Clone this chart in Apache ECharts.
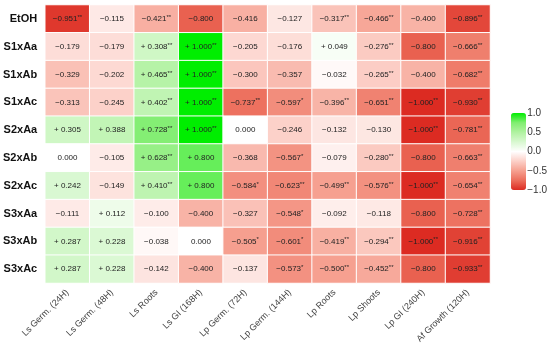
<!DOCTYPE html>
<html><head><meta charset="utf-8">
<script src="https://cdn.jsdelivr.net/npm/echarts@6/dist/echarts.min.js"></script>
<style>html,body{margin:0;padding:0;background:#fff}#c{width:550px;height:351px}</style>
</head><body><div id="c"></div>
<script>
var rows = ['EtOH','S1xAa','S1xAb','S1xAc','S2xAa','S2xAb','S2xAc','S3xAa','S3xAb','S3xAc'];
var cols = ['Ls Germ. (24H)','Ls Germ. (48H)','Ls Roots','Ls GI (168H)','Lp Germ. (72H)','Lp Germ. (144H)','Lp Roots','Lp Shoots','Lp GI (240H)','Af Growth (120H)'];
var values = [
  [-0.951,-0.115,-0.421,-0.800,-0.416,-0.127,-0.317,-0.466,-0.400,-0.896],
  [-0.179,-0.179, 0.308, 1.000,-0.205,-0.176, 0.049,-0.276,-0.800,-0.666],
  [-0.329,-0.202, 0.465, 1.000,-0.300,-0.357,-0.032,-0.265,-0.400,-0.682],
  [-0.313,-0.245, 0.402, 1.000,-0.737,-0.597,-0.396,-0.651,-1.000,-0.930],
  [ 0.305, 0.388, 0.728, 1.000, 0.000,-0.246,-0.132,-0.130,-1.000,-0.781],
  [ 0.000,-0.105, 0.628, 0.800,-0.368,-0.567,-0.079,-0.280,-0.800,-0.663],
  [ 0.242,-0.149, 0.410, 0.800,-0.584,-0.623,-0.499,-0.576,-1.000,-0.654],
  [-0.111, 0.112,-0.100,-0.400,-0.327,-0.548,-0.092,-0.118,-0.800,-0.728],
  [ 0.287, 0.228,-0.038, 0.000,-0.505,-0.601,-0.419,-0.294,-1.000,-0.916],
  [ 0.287, 0.228,-0.142,-0.400,-0.137,-0.573,-0.500,-0.452,-0.800,-0.933]
];
var sig = [
  ['**','','**','','','','**','**','','**'],
  ['','','**','**','','','','**','','**'],
  ['','','**','**','','','','**','','**'],
  ['','','**','**','**','*','**','**','**','**'],
  ['','','**','**','','','','','**','**'],
  ['','','**','','','*','','**','','**'],
  ['','','**','','*','**','**','**','**','**'],
  ['','','','','','*','','','','**'],
  ['','','','','*','*','**','**','**','**'],
  ['','','','','','*','**','**','','**']
];
var scaleTicks = [-1.0,-0.5,0.0,0.5,1.0];

var data = [];
for (var r = 0; r < rows.length; r++) {
  for (var c = 0; c < cols.length; c++) {
    data.push([c, r, values[r][c], sig[r][c]]);
  }
}
function fmt(v){
  if (v > 0) return '+ ' + v.toFixed(3);
  if (v < 0) return '\u2212' + Math.abs(v).toFixed(3);
  return '0.000';
}
var barTop = 113, barH = 77, barLeft = 511, barW = 15;
var chart = echarts.init(document.getElementById('c'), null, {renderer:'canvas'});
chart.setOption({
  backgroundColor:'#fff',
  animation:false,
  grid:[
    {left:40, right:60, top:5, bottom:68},
    {left:barLeft, width:barW, top:barTop, height:barH}
  ],
  xAxis:[
    {type:'category', data:cols, gridIndex:0, axisLine:{show:false}, axisTick:{show:false}, splitLine:{show:false},
     axisLabel:{rotate:45, fontSize:9, color:'#444', margin:8, fontFamily:'Liberation Sans, Arial'}},
    {type:'value', gridIndex:1, show:false, min:0, max:1}
  ],
  yAxis:[
    {type:'category', data:rows, inverse:true, gridIndex:0, axisLine:{show:false}, axisTick:{show:false}, splitLine:{show:false},
     axisLabel:{fontSize:11, fontWeight:'bold', color:'#111', margin:8, fontFamily:'Liberation Sans, Arial'}},
    {type:'value', gridIndex:1, min:scaleTicks[0], max:scaleTicks[scaleTicks.length-1], interval:0.5, position:'right',
     axisLine:{show:false}, splitLine:{show:false}, z:10,
     axisTick:{show:false},
     axisLabel:{fontSize:10, color:'#333', margin:4, fontFamily:'Liberation Sans, Arial',
       formatter:function(v){ return (v<0?'\u2212':'') + Math.abs(v).toFixed(1); }}}
  ],
  visualMap:{
    type:'continuous', min:-1, max:1, dimension:2, seriesIndex:0, calculable:false, padding:0, z:1,
    orient:'vertical', left:barLeft, top:barTop, itemWidth:barW, itemHeight:barH, text:null, showLabel:false,
    inRange:{color:['#dc2b22','#ec6e5c','#f6a090','#fcd0c8','#ffffff','#d8f8d0','#b0f2a0','#80ee70','#00ee00']}
  },
  series:[{
    type:'heatmap', xAxisIndex:0, yAxisIndex:0, data:data,
    itemStyle:{borderColor:'#fff', borderWidth:1},
    label:{show:true, color:'#222', fontSize:8, fontFamily:'Liberation Sans, Arial',
      formatter:function(p){
        var s = fmt(p.value[2]);
        return p.value[3] ? s + '{s|' + p.value[3] + '}' : s;
      },
      rich:{s:{fontSize:6, color:'#222', verticalAlign:'top', padding:[0,0,3,0]}}
    },
    emphasis:{disabled:true}
  }]
});
</script></body></html>
